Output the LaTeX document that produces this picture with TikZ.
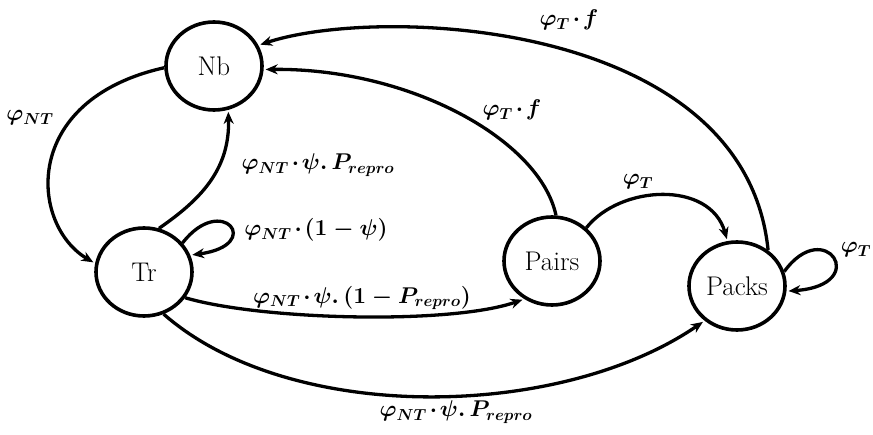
\RequirePackage{fix-cm}
\documentclass[tikz,border=0pt]{standalone}
\usetikzlibrary{shapes.geometric,arrows.meta}
\usepackage{amsmath}
\begin{document}
\begin{tikzpicture}[x=1pt,y=-1pt,
  state/.style={draw, ellipse, line width=3.6pt, minimum width=96pt, minimum height=88pt, inner sep=0pt, font=\fontsize{27}{31}\selectfont},
  conn/.style={line width=3.3pt, -{Stealth[length=12pt,width=10pt]}, shorten >=2pt},
  lbl/.style={font=\fontsize{22.8}{27}\selectfont\boldmath, inner sep=1pt}]
\useasboundingbox (0,0) rectangle (873,435);
\node[state] (Nb) at (214,66) {Nb};
\node[state] (Tr) at (144,272) {Tr};
\node[state] (Pairs) at (552,261) {Pairs};
\node[state] (Packs) at (737,286) {Packs};

\draw[conn] (Nb.182) .. controls (20,100) and (30,225) .. (Tr.170);
\draw[conn] (Tr.71) .. controls (200,200) and (230,170) .. (Nb.288);
\draw[conn] (Tr.37) .. controls (222,192) and (265,245) .. (Tr.20);
\draw[conn] (Tr.-32) .. controls (260,320) and (450,325) .. (Pairs.234);
\draw[conn] (Tr.-65) .. controls (290,425) and (560,420) .. (Packs.227);
\draw[conn] (Pairs.85) .. controls (540,140) and (410,68) .. (Nb.-4);
\draw[conn] (Pairs.44) .. controls (620,185) and (710,180) .. (Packs.102);
\draw[conn] (Packs.49) .. controls (745,20) and (380,5) .. (Nb.25);
\draw[conn] (Packs.17) .. controls (825,215) and (872,285) .. (Packs.-6);

\node[lbl] (l1) at (30,118) {$\varphi_{NT}$};
\node[lbl] (l2) at (318,165) {$\varphi_{NT}\mkern2mu{\cdot}\mkern2mu\psi.\,P_{repro}$};
\node[lbl] (l3) at (316,230) {$\varphi_{NT}\mkern2mu{\cdot}\mkern2mu(1-\psi)$};
\node[lbl] (l4) at (362,298) {$\varphi_{NT}\mkern2mu{\cdot}\mkern2mu\psi.\,(1-P_{repro})$};
\node[lbl] (l5) at (456,412) {$\varphi_{NT}\mkern2mu{\cdot}\mkern2mu\psi.\,P_{repro}$};
\node[lbl] (l6) at (512,110) {$\varphi_{T}\mkern2mu{\cdot}\mkern2mu f$};
\node[lbl] (l7) at (569,20) {$\varphi_{T}\mkern2mu{\cdot}\mkern2mu f$};
\node[lbl] (l8) at (638,182) {$\varphi_{T}$};
\node[lbl] (l9) at (856,250) {$\varphi_{T}$};
\end{tikzpicture}
\end{document}
